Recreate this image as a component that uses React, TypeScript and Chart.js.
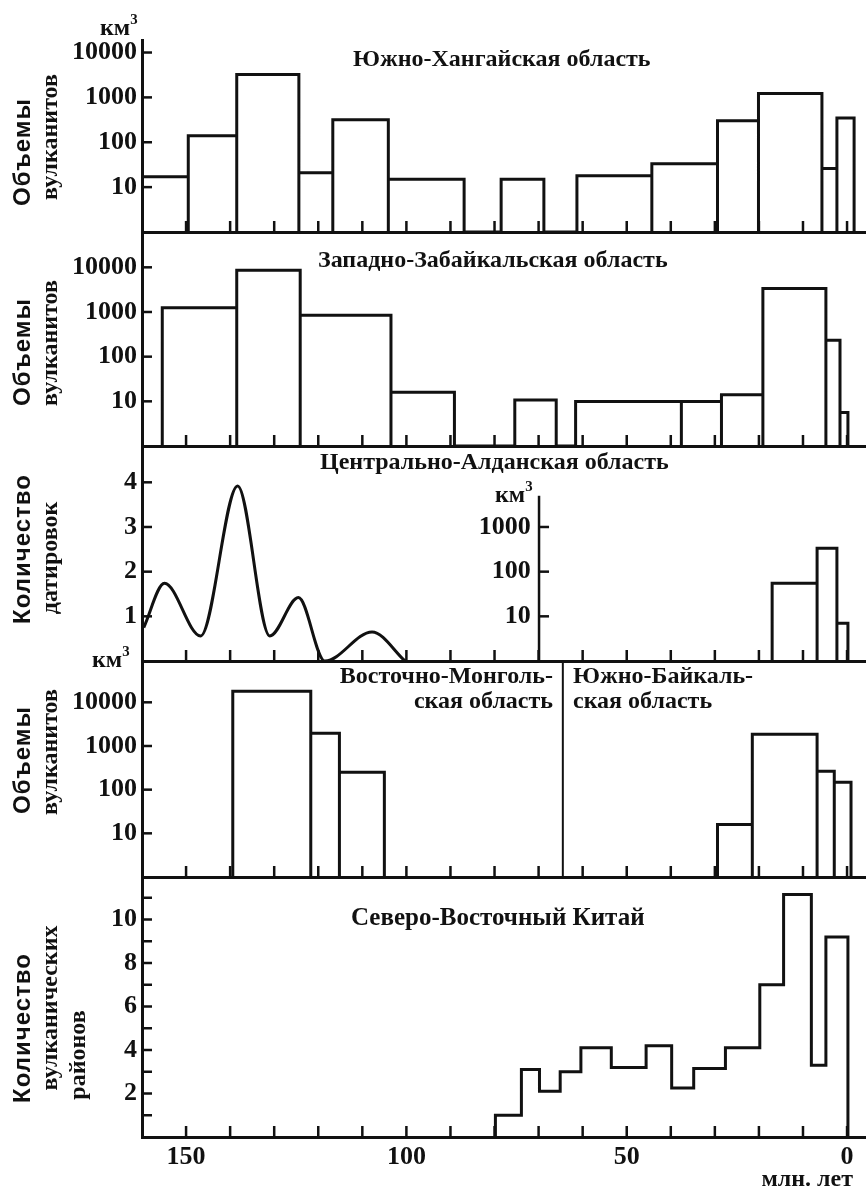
import React, { useEffect, useRef } from "react";
import { Chart, registerables } from "chart.js";

Chart.register(...registerables);

const INK = "#111";
const SERIF = "'Liberation Serif', 'Times New Roman', serif";
const SANS = "'Liberation Sans', Arial, sans-serif";

// x axis (млн. лет), reversed
const AGE_OLD = 160;
const AGE_YOUNG = -4.3;
const X_LABELS = [150, 100, 50, 0];
const X_MARKS = [150, 140, 130, 120, 110, 100, 90, 80, 70, 60, 50, 40, 30, 20, 10, 0];
const LOG_TICKS = [10, 100, 1000, 10000];

// Южно-Хангайская область (km3)
const P1_FROM = [160, 149.5, 138.5, 124.4, 116.7, 104.1, 78.5, 61.3, 44.3, 29.4, 20.1, 5.7, 2.3];
const P1_TO = [149.5, 138.5, 124.4, 116.7, 104.1, 86.9, 68.8, 44.3, 29.4, 20.1, 5.7, 2.3, -1.6];
const P1_VOLUME = [17, 139, 3240, 21, 316, 15, 15, 18, 33, 300, 1225, 26, 346];

// Западно-Забайкальская область (km3)
const P2_FROM = [155.4, 138.5, 124.1, 103.5, 75.4, 61.6, 37.6, 28.5, 19.1, 4.8, 1.6];
const P2_TO = [138.5, 124.1, 103.5, 89.1, 66.0, 37.6, 28.5, 19.1, 4.8, 1.6, -0.2];
const P2_VOLUME = [1250, 8600, 840, 16, 10.7, 9.9, 9.9, 14, 3340, 232, 5.6];

// Центрально-Алданская область: number of datings (curve) and volumes (km3)
const P3_AGE = [159.6, 154.9, 146.7, 138.3, 131.0, 124.5, 118.5, 107.8, 100.3];
const P3_DATINGS = [0.75, 1.74, 0.56, 3.92, 0.56, 1.42, 0, 0.65, 0];
const P3_FROM = [17, 6.8, 2.3];
const P3_TO = [6.8, 2.3, -0.2];
const P3_VOLUME = [55, 333, 7];
const P3_LIN_TICKS = [1, 2, 3, 4];
const P3_SUB_TICKS = [10, 100, 1000];
const P3_SUBAXIS_AGE = 69.9;
const P3_SUBAXIS_LABEL_AGE = 71.8;
const P3_SUBAXIS_TOP = 5000;

// Восточно-Монгольская / Южно-Байкальская области (km3)
const P4E_FROM = [139.4, 121.7, 115.2];
const P4E_TO = [121.7, 115.2, 105.0];
const P4E_VOLUME = [17900, 1950, 250];
const P4B_FROM = [29.4, 21.5, 6.8, 2.9];
const P4B_TO = [21.5, 6.8, 2.9, -0.9];
const P4B_VOLUME = [16, 1850, 264, 147];
const P4_DIVIDER_AGE = 64.5;

// Северо-Восточный Китай: number of volcanic districts
const P5_EDGES = [79.8, 73.9, 69.8, 65.1, 60.4, 53.5, 45.6, 39.8, 34.8, 27.6, 19.8, 14.4, 8.1, 4.8, -0.2];
const P5_COUNT = [1, 3.1, 2.1, 3.0, 4.1, 3.2, 4.2, 2.25, 3.15, 4.1, 7.0, 11.15, 3.3, 9.2];
const P5_LABELS = [2, 4, 6, 8, 10];
const P5_MARKS = [1, 2, 3, 4, 5, 6, 7, 8, 9, 10, 11];

// layout geometry
const AXIS_LEFT = 142;
const PAD = 8;
const PANELS_Y = [
  { top: 40, bottom: 232 },
  { top: 232, bottom: 446 },
  { top: 446, bottom: 661 },
  { top: 661, bottom: 877 },
  { top: 877, bottom: 1137 },
];
const P5_XAXIS_H = 44;

const tickFont = { family: SERIF, size: 26, weight: "bold" as const };

function rects(from: number[], to: number[], vals: number[], base: number) {
  const pts: { x: number; y: number }[] = [];
  from.forEach((f, i) => {
    pts.push({ x: f, y: base }, { x: f, y: vals[i] }, { x: to[i], y: vals[i] }, { x: to[i], y: base });
  });
  return pts;
}

function steps(edges: number[], vals: number[]) {
  const pts: { x: number; y: number }[] = [];
  edges.forEach((e, i) => {
    const prev = i === 0 ? 0 : vals[i - 1];
    const cur = i < vals.length ? vals[i] : 0;
    pts.push({ x: e, y: prev }, { x: e, y: cur });
  });
  return pts;
}

function line(data: any[], yAxisID = "y", width = 3, extra: any = {}) {
  return {
    data,
    yAxisID,
    borderColor: INK,
    borderWidth: width,
    pointRadius: 0,
    fill: false,
    tension: 0,
    borderJoinStyle: "miter",
    ...extra,
  };
}

function noPad(s: any) {
  s.paddingTop = 0;
  s.paddingBottom = 0;
  s.paddingLeft = 0;
  s.paddingRight = 0;
}

function xAxis(showLabels: boolean, height: number) {
  return {
    type: "linear",
    reverse: true,
    min: AGE_YOUNG,
    max: AGE_OLD,
    position: "bottom",
    grid: { display: false, drawTicks: false },
    border: { display: true, width: 3, color: INK },
    ticks: {
      display: showLabels,
      font: tickFont,
      color: INK,
      padding: 5,
      maxRotation: 0,
      autoSkip: false,
      callback: (v: any) => String(v),
    },
    afterBuildTicks: (s: any) => {
      s.ticks = X_LABELS.map((v) => ({ value: v }));
    },
    afterFit: (s: any) => {
      s.height = height;
      noPad(s);
    },
  };
}

function yAxis(type: string, min: number, max: number, ticks: number[]) {
  return {
    type,
    min,
    max,
    position: "left",
    grid: { display: false, drawTicks: false },
    border: { display: true, width: 3, color: INK },
    ticks: {
      font: tickFont,
      color: INK,
      padding: 5,
      autoSkip: false,
      callback: (v: any) => String(v),
    },
    afterBuildTicks: (s: any) => {
      s.ticks = ticks.map((v) => ({ value: v }));
    },
    afterFit: (s: any) => {
      s.width = AXIS_LEFT;
      noPad(s);
    },
  };
}

const innerTicks = {
  id: "innerTicks",
  afterDatasetsDraw(chart: any, _args: any, opts: any) {
    const { ctx, chartArea } = chart;
    const xs = chart.scales.x;
    ctx.save();
    ctx.strokeStyle = INK;
    ctx.lineWidth = 2.5;
    for (const v of opts.xMarks || []) {
      const px = xs.getPixelForValue(v);
      ctx.beginPath();
      ctx.moveTo(px, chartArea.bottom);
      ctx.lineTo(px, chartArea.bottom - 11);
      ctx.stroke();
    }
    for (const g of opts.yMarks || []) {
      const sc = chart.scales[g.scale];
      const x0 = g.atAge === undefined ? chartArea.left : xs.getPixelForValue(g.atAge);
      for (const v of g.values) {
        const py = sc.getPixelForValue(v);
        ctx.beginPath();
        ctx.moveTo(x0, py);
        ctx.lineTo(x0 + 10, py);
        ctx.stroke();
      }
    }
    ctx.restore();
  },
};

function logMax(p: { top: number; bottom: number }, decadePx: number) {
  return Math.pow(10, (p.bottom - p.top) / decadePx);
}

function baseOptions(bottomPad: number, scales: any, marks: any) {
  return {
    responsive: false,
    animation: false,
    devicePixelRatio: 1,
    events: [],
    layout: { padding: { top: PAD, bottom: bottomPad, left: 0, right: 0 } },
    plugins: {
      legend: { display: false },
      tooltip: { enabled: false },
      innerTicks: marks,
    },
    scales,
  };
}

function buildConfigs() {
  const p1Max = logMax(PANELS_Y[0], 44.87);
  const p2Max = logMax(PANELS_Y[1], 44.67);
  const p3Lin = (PANELS_Y[2].bottom - PANELS_Y[2].top) / 44.67;
  const p3Log = Math.pow(10, p3Lin);
  const p4Max = logMax(PANELS_Y[3], 43.67);
  const p5Max = (PANELS_Y[4].bottom - PANELS_Y[4].top) / 21.75;

  const c1 = {
    type: "line",
    data: { datasets: [line(rects(P1_FROM, P1_TO, P1_VOLUME, 1))] },
    options: baseOptions(
      PAD,
      { x: xAxis(false, 0), y: yAxis("logarithmic", 1, p1Max, LOG_TICKS) },
      { xMarks: X_MARKS, yMarks: [{ scale: "y", values: LOG_TICKS }] }
    ),
    plugins: [innerTicks],
  };
  const c2 = {
    type: "line",
    data: { datasets: [line(rects(P2_FROM, P2_TO, P2_VOLUME, 1))] },
    options: baseOptions(
      PAD,
      { x: xAxis(false, 0), y: yAxis("logarithmic", 1, p2Max, LOG_TICKS) },
      { xMarks: X_MARKS, yMarks: [{ scale: "y", values: LOG_TICKS }] }
    ),
    plugins: [innerTicks],
  };
  const c3 = {
    type: "line",
    data: {
      datasets: [
        line(
          P3_AGE.map((a, i) => ({ x: a, y: P3_DATINGS[i] })),
          "y",
          3,
          { cubicInterpolationMode: "monotone" }
        ),
        line(rects(P3_FROM, P3_TO, P3_VOLUME, 1), "y2"),
        line(
          [
            { x: P3_SUBAXIS_AGE, y: 1 },
            { x: P3_SUBAXIS_AGE, y: P3_SUBAXIS_TOP },
          ],
          "y2",
          2.5
        ),
      ],
    },
    options: baseOptions(
      PAD,
      {
        x: xAxis(false, 0),
        y: yAxis("linear", 0, p3Lin, P3_LIN_TICKS),
        y2: {
          type: "logarithmic",
          axis: "y",
          min: 1,
          max: p3Log,
          position: { x: P3_SUBAXIS_LABEL_AGE },
          grid: { display: false, drawTicks: false },
          border: { display: false },
          ticks: { font: tickFont, color: INK, padding: 0, autoSkip: false, callback: (v: any) => String(v) },
          afterBuildTicks: (s: any) => {
            s.ticks = P3_SUB_TICKS.map((v) => ({ value: v }));
          },
          afterFit: (s: any) => {
            s.width = 0;
            noPad(s);
          },
        },
      },
      {
        xMarks: X_MARKS,
        yMarks: [
          { scale: "y", values: P3_LIN_TICKS },
          { scale: "y2", values: P3_SUB_TICKS, atAge: P3_SUBAXIS_AGE },
        ],
      }
    ),
    plugins: [innerTicks],
  };
  const c4 = {
    type: "line",
    data: {
      datasets: [
        line(rects(P4E_FROM, P4E_TO, P4E_VOLUME, 1)),
        line(rects(P4B_FROM, P4B_TO, P4B_VOLUME, 1)),
        line(
          [
            { x: P4_DIVIDER_AGE, y: 1 },
            { x: P4_DIVIDER_AGE, y: p4Max },
          ],
          "y",
          2
        ),
      ],
    },
    options: baseOptions(
      PAD,
      { x: xAxis(false, 0), y: yAxis("logarithmic", 1, p4Max, LOG_TICKS) },
      { xMarks: X_MARKS, yMarks: [{ scale: "y", values: LOG_TICKS }] }
    ),
    plugins: [innerTicks],
  };
  const c5 = {
    type: "line",
    data: { datasets: [line(steps(P5_EDGES, P5_COUNT))] },
    options: baseOptions(
      0,
      { x: xAxis(true, P5_XAXIS_H), y: yAxis("linear", 0, p5Max, P5_LABELS) },
      { xMarks: X_MARKS, yMarks: [{ scale: "y", values: P5_MARKS }] }
    ),
    plugins: [innerTicks],
  };
  return [c1, c2, c3, c4, c5];
}

function Txt(props: { x: number; base: number; size?: number; align?: string; family?: string; children: any }) {
  const size = props.size || 24;
  const style: any = {
    position: "absolute",
    top: props.base - 0.84 * size,
    fontFamily: props.family || SERIF,
    fontSize: size,
    fontWeight: "bold",
    lineHeight: 1,
    whiteSpace: "nowrap",
    color: INK,
  };
  if (props.align === "right") style.right = 866 - props.x;
  else style.left = props.x;
  return <div style={style}>{props.children}</div>;
}

function VTxt(props: { cx: number; cy: number; size?: number; family?: string; spacing?: number; children: any }) {
  return (
    <div
      style={{
        position: "absolute",
        left: props.cx,
        top: props.cy,
        transform: "translate(-50%, -50%) rotate(-90deg)",
        fontFamily: props.family || SERIF,
        fontSize: props.size || 24,
        fontWeight: "bold",
        letterSpacing: props.spacing || 0,
        lineHeight: 1,
        whiteSpace: "nowrap",
        color: INK,
      }}
    >
      {props.children}
    </div>
  );
}

function Km3(props: { x: number; base: number }) {
  return (
    <Txt x={props.x} base={props.base} size={24}>
      км
      <span style={{ fontSize: "0.62em", position: "relative", top: "-0.75em" }}>3</span>
    </Txt>
  );
}

export default function App() {
  const r1 = useRef<HTMLCanvasElement>(null);
  const r2 = useRef<HTMLCanvasElement>(null);
  const r3 = useRef<HTMLCanvasElement>(null);
  const r4 = useRef<HTMLCanvasElement>(null);
  const r5 = useRef<HTMLCanvasElement>(null);
  const refs = [r1, r2, r3, r4, r5];

  useEffect(() => {
    const cfgs = buildConfigs();
    const charts = cfgs.map((cfg, i) => new Chart(refs[i].current as HTMLCanvasElement, cfg as any));
    return () => charts.forEach((c) => c.destroy());
  }, []);

  const canvases = PANELS_Y.map((p, i) => {
    const top = p.top - PAD;
    const h = p.bottom - p.top + PAD + (i === 4 ? P5_XAXIS_H : PAD);
    return (
      <canvas
        key={i}
        ref={refs[i]}
        width={866}
        height={h}
        style={{ position: "absolute", left: 0, top, width: 866, height: h }}
      />
    );
  });

  return (
    <div
      style={{
        position: "absolute",
        left: 0,
        top: 0,
        width: 866,
        height: 1189,
        background: "#fff",
        overflow: "hidden",
      }}
    >
      {canvases}

      <Km3 x={100} base={35} />
      <Txt x={353} base={66}>Южно-Хангайская область</Txt>
      <VTxt cx={22} cy={152} family={SANS} spacing={1}>Объемы</VTxt>
      <VTxt cx={49} cy={137}>вулканитов</VTxt>

      <Txt x={318} base={267}>Западно-Забайкальская область</Txt>
      <VTxt cx={22} cy={352} family={SANS} spacing={1}>Объемы</VTxt>
      <VTxt cx={49} cy={343}>вулканитов</VTxt>

      <Txt x={320} base={469}>Центрально-Алданская область</Txt>
      <Km3 x={495} base={502} />
      <VTxt cx={22} cy={549} family={SANS} spacing={1}>Количество</VTxt>
      <VTxt cx={49} cy={558}>датировок</VTxt>

      <Km3 x={92} base={667} />
      <Txt x={553} base={683} align="right">Восточно-Монголь-</Txt>
      <Txt x={553} base={708} align="right">ская область</Txt>
      <Txt x={573} base={683}>Южно-Байкаль-</Txt>
      <Txt x={573} base={708}>ская область</Txt>
      <VTxt cx={22} cy={760} family={SANS} spacing={1}>Объемы</VTxt>
      <VTxt cx={49} cy={752}>вулканитов</VTxt>

      <Txt x={351} base={925} size={25}>Северо-Восточный Китай</Txt>
      <VTxt cx={22} cy={1028} family={SANS} spacing={1}>Количество</VTxt>
      <VTxt cx={49} cy={1008}>вулканических</VTxt>
      <VTxt cx={77} cy={1055}>районов</VTxt>

      <Txt x={853} base={1186} align="right">млн. лет</Txt>
    </div>
  );
}
